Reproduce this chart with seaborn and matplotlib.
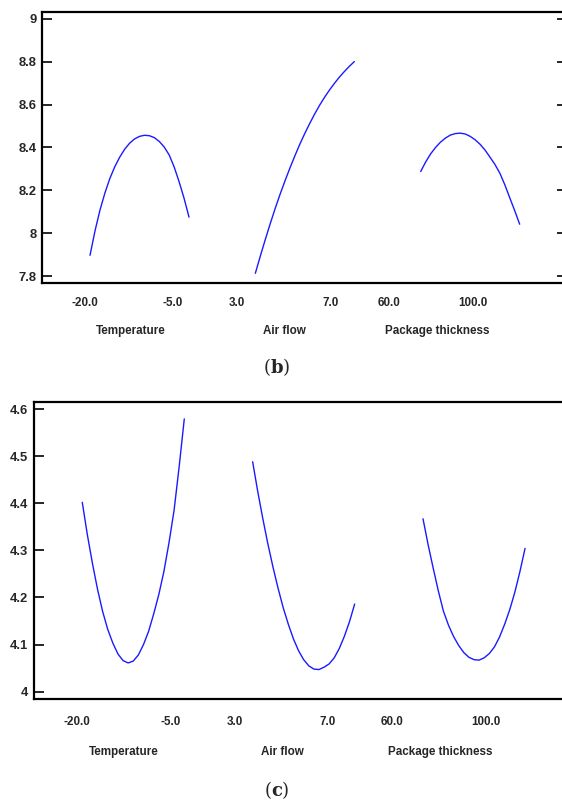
"""
Haupteffekt-Diagramme (b) und (c): Verlauf der Zielgröße über Temperature,
Air flow und Package thickness, nebeneinander auf einer gemeinsamen x-Achse.
"""

import pandas as pd
import matplotlib.pyplot as plt
import seaborn as sns

# Faktoren und ihre Stufen (je 21 Stützstellen von unten nach oben)
factors = ["Temperature", "Air flow", "Package thickness"]
temperature = [-20.0, -19.25, -18.5, -17.75, -17.0, -16.25, -15.5, -14.75, -14.0, -13.25, -12.5,
               -11.75, -11.0, -10.25, -9.5, -8.75, -8.0, -7.25, -6.5, -5.75, -5.0]
air_flow = [3.0, 3.2, 3.4, 3.6, 3.8, 4.0, 4.2, 4.4, 4.6, 4.8, 5.0,
            5.2, 5.4, 5.6, 5.8, 6.0, 6.2, 6.4, 6.6, 6.8, 7.0]
package_thickness = [60, 62, 64, 66, 68, 70, 72, 74, 76, 78, 80,
                     82, 84, 86, 88, 90, 92, 94, 96, 98, 100]
levels = [temperature, air_flow, package_thickness]
tick_labels = ["-20.0", "-5.0", "3.0", "7.0", "60.0", "100.0"]

# Panel (b)
b_temperature = [7.897, 8.010, 8.107, 8.187, 8.255, 8.310, 8.355, 8.392, 8.420, 8.440, 8.452,
                 8.457, 8.455, 8.446, 8.428, 8.402, 8.365, 8.309, 8.240, 8.163, 8.075]
b_air_flow = [7.813, 7.893, 7.970, 8.044, 8.115, 8.182, 8.245, 8.305, 8.362, 8.416, 8.466,
              8.513, 8.557, 8.598, 8.635, 8.669, 8.700, 8.729, 8.755, 8.779, 8.801]
b_package = [8.288, 8.332, 8.370, 8.400, 8.425, 8.444, 8.458, 8.465, 8.467, 8.463, 8.452,
             8.436, 8.415, 8.388, 8.355, 8.321, 8.280, 8.226, 8.165, 8.105, 8.042]
b_yticks = [7.8, 8.0, 8.2, 8.4, 8.6, 8.8, 9.0]
b_yticklabels = ["7.8", "8", "8.2", "8.4", "8.6", "8.8", "9"]

# Panel (c)
c_temperature = [4.402, 4.333, 4.272, 4.217, 4.170, 4.132, 4.103, 4.080, 4.066, 4.061, 4.065,
                 4.078, 4.100, 4.128, 4.165, 4.206, 4.255, 4.316, 4.385, 4.478, 4.579]
c_air_flow = [4.488, 4.425, 4.367, 4.313, 4.264, 4.219, 4.178, 4.143, 4.112, 4.087, 4.068,
              4.055, 4.048, 4.047, 4.052, 4.059, 4.072, 4.092, 4.118, 4.149, 4.186]
c_package = [4.367, 4.312, 4.262, 4.214, 4.171, 4.141, 4.117, 4.098, 4.083, 4.073, 4.068,
             4.067, 4.072, 4.081, 4.095, 4.116, 4.143, 4.174, 4.211, 4.255, 4.304]
c_yticks = [4.0, 4.1, 4.2, 4.3, 4.4, 4.5, 4.6]
c_yticklabels = ["4", "4.1", "4.2", "4.3", "4.4", "4.5", "4.6"]

STEP = 1.67  # Abstand der Faktorblöcke auf der gemeinsamen Achse


def build_frame(values_per_factor):
    rows = []
    for i, (name, lv, vals) in enumerate(zip(factors, levels, values_per_factor)):
        lo, hi = lv[0], lv[-1]
        for x, y in zip(lv, vals):
            rows.append({"factor": name, "pos": i * STEP + (x - lo) / (hi - lo), "value": y})
    return pd.DataFrame(rows)


def draw_panel(ax, df, ylim, yticks, yticklabels, xlim, tick_pos, label_pos, pads):
    for name in factors:
        sns.lineplot(data=df[df["factor"] == name], x="pos", y="value",
                     color="#1a1aff", linewidth=1.0, ax=ax, sort=True)
    ax.set_xlim(*xlim)
    ax.set_ylim(*ylim)
    ax.set_yticks(yticks, yticklabels, fontsize=9.4, fontweight="bold")
    ax.tick_params(axis="y", direction="in", length=7, width=1.4, pad=4,
                   right=True, left=True)
    ax.set_xticks(tick_pos, tick_labels, fontsize=8.4, fontweight="bold")
    ax.tick_params(axis="x", length=0, pad=pads[0])
    for name, xp in zip(factors, label_pos):
        ax.annotate(name, xy=(xp, 0), xycoords=("data", "axes fraction"),
                    xytext=(0, -pads[1]), textcoords="offset points",
                    ha="center", va="center", fontsize=8.4, fontweight="bold")
    ax.set_xlabel("")
    ax.set_ylabel("")
    for s in ax.spines.values():
        s.set_linewidth(1.6)
        s.set_color("black")


sns.set_theme(style="ticks")
plt.rcParams["font.family"] = ["Liberation Sans", "DejaVu Sans"]
plt.rcParams["mathtext.fontset"] = "dejavuserif"

fig = plt.figure(figsize=(5.62, 8.07), dpi=100)

ax_b = fig.add_axes([42.3 / 562, 1 - 282.7 / 807, (567 - 42.3) / 562, 270.4 / 807])
draw_panel(ax_b, build_frame([b_temperature, b_air_flow, b_package]),
           (7.769, 9.031), b_yticks, b_yticklabels, (-0.482, 4.818),
           [-0.05, 0.83, 1.485, 2.434, 3.02, 3.869], [0.41, 1.96, 3.505], (10.5, 35))

ax_c = fig.add_axes([33.5 / 562, 1 - 699 / 807, (574 - 33.5) / 562, 297.3 / 807])
draw_panel(ax_c, build_frame([c_temperature, c_air_flow, c_package]),
           (3.9845, 4.6155), c_yticks, c_yticklabels, (-0.478, 4.82),
           [-0.052, 0.870, 1.497, 2.409, 3.036, 3.958], [0.41, 1.958, 3.507], (12, 38))

fig.text(277 / 562, 1 - 367 / 807, r"$(\mathbf{b})$", ha="center", va="center", fontsize=13)
fig.text(277 / 562, 1 - 790 / 807, r"$(\mathbf{c})$", ha="center", va="center", fontsize=13)

fig.savefig("out.png", dpi=100)
